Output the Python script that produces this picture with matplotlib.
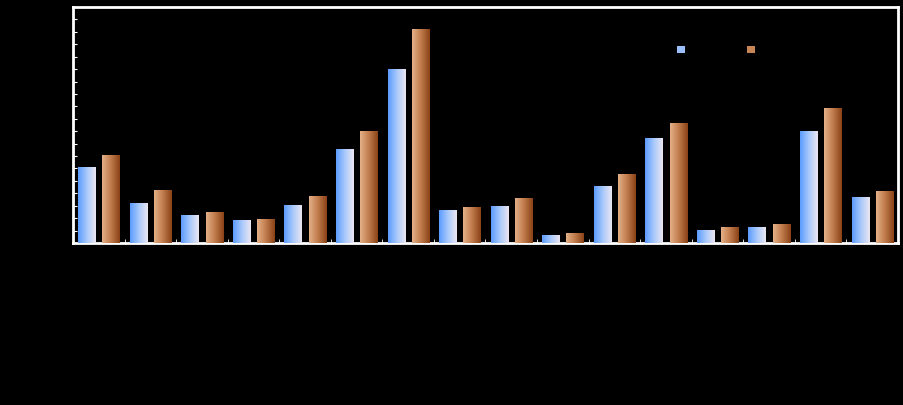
import numpy as np
import matplotlib
matplotlib.use("Agg")
import matplotlib.pyplot as plt
from matplotlib.colors import LinearSegmentedColormap

# chart values (text in the original is black on black)
categories = ["Cat %d" % i for i in range(1, 17)]
series_a = [612, 322, 225, 185, 306, 757, 1401, 266, 298, 64, 459, 845, 105, 129, 902, 370]
series_b = [708, 427, 250, 193, 378, 902, 1723, 290, 362, 80, 555, 966, 129, 153, 1087, 419]
series_names = ["Series 1", "Series 2"]

blue_cmap = LinearSegmentedColormap.from_list("blue", ["#5c9cff", "#a9c9fb", "#ece6f2"])
brown_cmap = LinearSegmentedColormap.from_list("brown", ["#e4b088", "#c07c4c", "#8a4216"])

fig = plt.figure(figsize=(9.04, 4.05), dpi=100, facecolor="black")
ax = fig.add_axes([73 / 904, 162 / 405, 825 / 904, 236 / 405], facecolor="black")

x = np.arange(len(categories))
w = 0.33
off = 0.235

grad = np.linspace(0, 1, 64).reshape(1, -1)


def gradient_bars(xpos, vals, cmap, label):
    bars = ax.bar(xpos, vals, w, color=cmap(0.4), label=label, zorder=2)
    for b in bars:
        x0, y0 = b.get_x(), b.get_y()
        im = ax.imshow(grad, extent=[x0, x0 + b.get_width(), y0, y0 + b.get_height()],
                       aspect="auto", cmap=cmap, zorder=3, interpolation="bilinear")
        im.set_clip_path(b)
    return bars


gradient_bars(x - off, series_a, blue_cmap, series_names[0])
gradient_bars(x + off, series_b, brown_cmap, series_names[1])

ax.set_xlim(-0.5, len(categories) - 0.5)
ax.set_ylim(0, 1900)

for s in ax.spines.values():
    s.set_color("white")
    s.set_linewidth(2)

ax.set_yticks(np.arange(0, 1901, 100))
ax.tick_params(axis="y", direction="in", color="white", length=3, labelcolor="black", labelsize=8)
ax.set_xticks(x)
ax.set_xticklabels(categories, rotation=90, color="black", fontsize=8)
ax.tick_params(axis="x", length=0)
ax.set_xticks(np.arange(-0.5, len(categories)), minor=True)
ax.tick_params(axis="x", which="minor", direction="in", color="white", length=3)

# title (black on black, small so it fits above the frame)
fig.text(0.47, 0.999, "Chart", color="black", fontsize=5, ha="center", va="top")

leg = ax.legend(loc="upper left", bbox_to_anchor=(0.72, 0.88), ncol=2, frameon=False,
                handlelength=0.7, handleheight=0.7, fontsize=8, columnspacing=1.1,
                handletextpad=0.5)
for t in leg.get_texts():
    t.set_color("black")

fig.savefig("out.png", dpi=100, facecolor="black")
